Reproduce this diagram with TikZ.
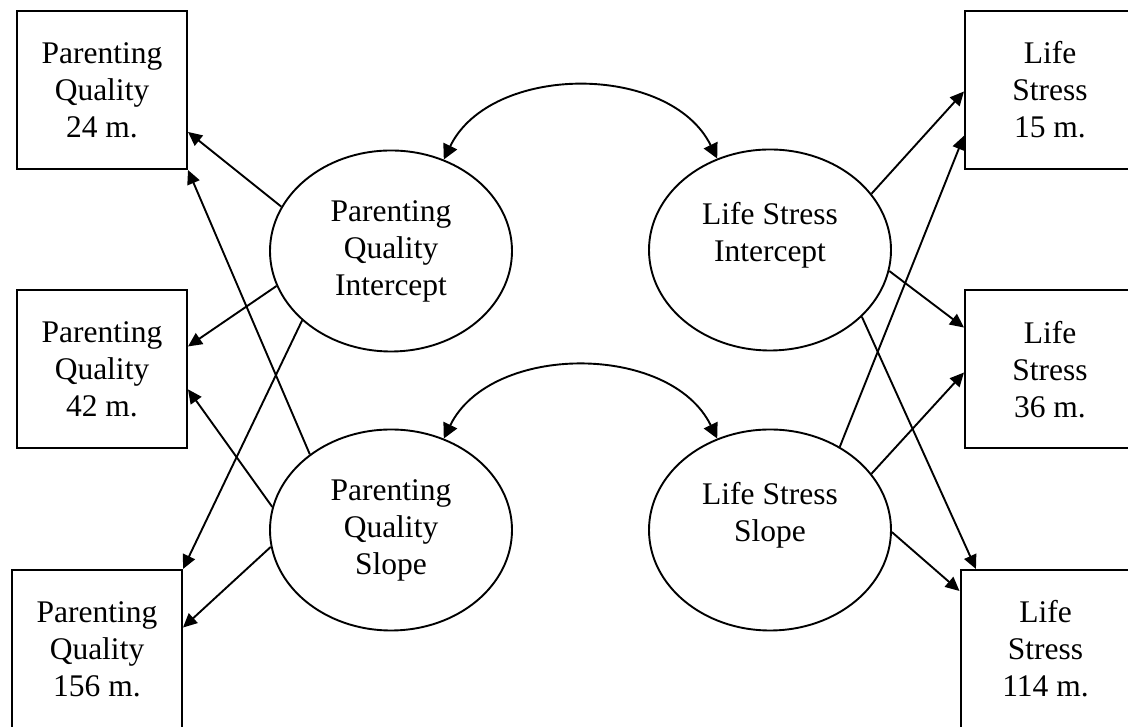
\documentclass[tikz,border=0pt]{standalone}
\usepackage{fontspec}
\setmainfont{Liberation Serif}
\usetikzlibrary{arrows.meta,shapes.geometric}

\begin{document}
\begin{tikzpicture}[
  x=1pt, y=1pt,
  obs/.style={
    draw, line width=2pt, rectangle,
    minimum width=170pt, minimum height=158pt,
    inner sep=0pt, align=center,
    font=\fontsize{31.5}{37}\selectfont
  },
  latent/.style={
    draw, line width=1.9pt, ellipse,
    minimum width=242pt, minimum height=201pt,
    inner sep=0pt, align=center,
    font=\fontsize{31.5}{37}\selectfont
  },
  arr/.style={-{Triangle[length=14pt,width=13pt]}, line width=1.9pt},
  covarr/.style={{Triangle[length=15pt,width=15pt]}-{Triangle[length=15pt,width=15pt]},
    line width=1.9pt}
]
  \useasboundingbox (0,0) rectangle (1128,727);

  % Left column: parenting quality measures
  \node[obs] (pq24)  at (102,637)   {Parenting\\Quality\\24 m.};
  \node[obs] (pq42)  at (102,357.5) {Parenting\\Quality\\42 m.};
  \node[obs] (pq156) at (97,78)     {Parenting\\Quality\\156 m.};

  % Right column: life stress measures
  \node[obs] (ls15)  at (1050,637)   {Life\\Stress\\15 m.};
  \node[obs] (ls36)  at (1050,357.5) {Life\\Stress\\36 m.};
  \node[obs] (ls114) at (1045.5,78)  {Life\\Stress\\114 m.};

  % Latent growth factors
  \node[latent] (pqi) at (391,476) {Parenting\\Quality\\Intercept};
  \node[latent] (pqs) at (391,197) {Parenting\\Quality\\Slope};
  \node[latent] (lsi) at (770,477) {Life Stress\\Intercept\\\mbox{}};
  \node[latent] (lss) at (770,197) {Life Stress\\Slope\\\mbox{}};

  % Loadings on parenting quality
  \draw[arr] (pqi.158) -- (pq24.-26);
  \draw[arr] (pqi.197) -- (pq42.15);
  \draw[arr] (pqi.218) -- (pq156.north east);
  \draw[arr] (pqs.137) -- (pq24.south east);
  \draw[arr] (pqs.169) -- (pq42.-13);
  \draw[arr] (pqs.188) -- (pq156.14);

  % Loadings on life stress
  \draw[arr] (lsi.29)  -- (ls15.181);
  \draw[arr] (lsi.-10) -- (ls36.154);
  \draw[arr] (lsi.-36) -- (ls114.131);
  \draw[arr] (lss.50)  -- (ls15.208);
  \draw[arr] (lss.29)  -- (ls36.182);
  \draw[arr] (lss.-1)  -- (ls114.146);

  % Covariances
  \draw[covarr] (pqi.60) to[bend left=64] (lsi.120);
  \draw[covarr] (pqs.60) to[bend left=64] (lss.120);

\end{tikzpicture}
\end{document}
